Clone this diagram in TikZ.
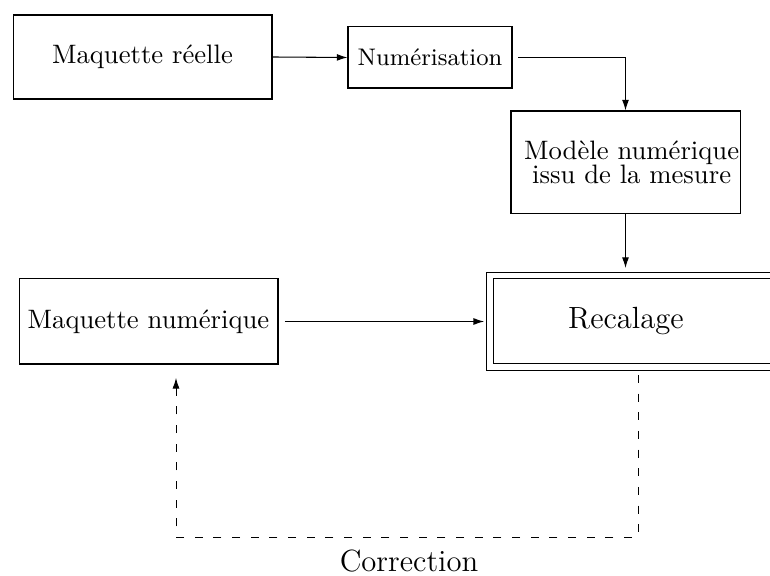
\documentclass[tikz,border=0pt]{standalone}
\usetikzlibrary{arrows.meta}

\begin{document}
\begin{tikzpicture}[
            x=0.375pt, y=-0.375pt,
            >={Latex[length=4pt,width=2.6pt]},
            bloc/.style={draw, rectangle, inner sep=0pt},
            fleche/.style={->},
            retour/.style={->, line width=0.35pt, dash pattern=on 3pt off 4pt},
            grand/.style={font=\fontsize{11.5}{14}\selectfont}
        ]
        \useasboundingbox (0,0) rectangle (770,576);

        \node[bloc, minimum width=97.1pt, minimum height=31.5pt] (reelle) at (142.5,57) {Maquette réelle};
        \node[bloc, minimum width=61.5pt, minimum height=22.9pt, font=\small] (numerisation) at (430,57.5) {Numérisation};
        \node[bloc, minimum width=85.9pt, minimum height=38.6pt,
              label={[align=center, xshift=2.3pt]center:{Modèle numérique\\[-3pt]issu de la mesure}}] (modele) at (625.5,162.5) {};
        \node[bloc, double, double distance=2pt, minimum width=108.75pt, minimum height=34.3pt,
              label={[grand, xshift=-3.4pt]center:Recalage}] (recalage) at (635,321.25) {};
        \node[bloc, minimum width=97.1pt, minimum height=31.9pt] (numerique) at (148.5,321.5) {Maquette numérique};
        \node[grand] (correction) at (409,561) {Correction};

        \coordinate (coinD) at (638,537);
        \coordinate (coinG) at (176,537);

        \draw[fleche] (reelle.east) -- (numerisation.west);
        \draw[fleche, shorten <=2.2pt] (numerisation.east) -| (modele.north);
        \draw[fleche, shorten >=2.6pt] (modele.south) -- (modele.south |- recalage.north);
        \draw[fleche, shorten <=2.4pt, shorten >=2pt] (numerique.east) -- (numerique.east -| recalage.west);
        \draw[retour, shorten <=2.8pt, shorten >=5pt] (coinD |- recalage.south) -- (coinD) -- (coinG) -- (coinG |- numerique.south);
    \end{tikzpicture}
\end{document}
